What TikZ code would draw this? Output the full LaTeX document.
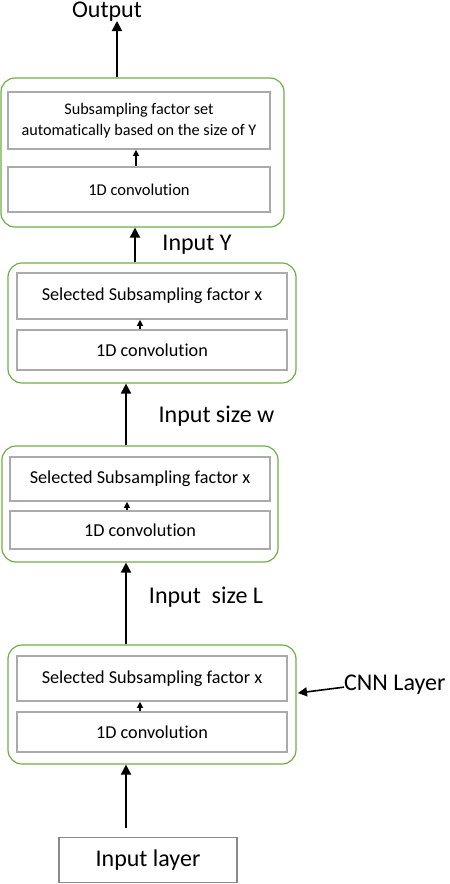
\documentclass[tikz,border=0pt]{standalone}
\usepackage{fontspec}
\setmainfont{Carlito}[Ligatures=NoCommon]
\usetikzlibrary{arrows.meta}
\definecolor{layergreen}{RGB}{112,173,71}
\definecolor{boxgray}{RGB}{170,170,170}

\tikzset{
  layer/.style={draw=layergreen, line width=1.2pt, rounded corners=14pt, inner sep=0pt},
  opbox/.style={draw=boxgray, line width=1.6pt, inner sep=0pt, align=center, font=\fontsize{18.2}{21}\selectfont},
  bigarrow/.style={black, line width=2pt, -{Triangle[length=10pt,width=10pt]}},
  smallarrow/.style={black, line width=1.2pt, -{Triangle[length=6pt,width=6pt]}},
  lbl/.style={inner sep=0pt, anchor=base, font=\fontsize{24}{28}\selectfont}
}

\begin{document}
\begin{tikzpicture}[x=1pt, y=-1pt]
\useasboundingbox (0,0) rectangle (450,884);

% top layer
\node[layer, minimum width=283pt, minimum height=149pt] (g4) at (142.5,152.5) {};
\node[opbox, minimum width=262pt, minimum height=57pt, font=\fontsize{16.2}{20.5}\selectfont] (up4) at (139,120.5) {Subsampling factor set\\automatically based on the size of Y};
\node[opbox, minimum width=262pt, minimum height=45pt, font=\fontsize{16.5}{19}\selectfont] (low4) at (139,189.5) {1D convolution};

% third layer
\node[layer, minimum width=288pt, minimum height=120pt] (g3) at (152,323) {};
\node[opbox, minimum width=270pt, minimum height=46pt] (up3) at (152,296) {Selected Subsampling factor x};
\node[opbox, minimum width=270pt, minimum height=40pt] (low3) at (152,350) {1D convolution};

% second layer
\node[layer, minimum width=276pt, minimum height=116pt] (g2) at (140,504) {};
\node[opbox, minimum width=260pt, minimum height=44pt] (up2) at (140,479) {Selected Subsampling factor x};
\node[opbox, minimum width=260pt, minimum height=38pt] (low2) at (140,530) {1D convolution};

% first layer
\node[layer, minimum width=288pt, minimum height=119pt] (g1) at (152,704.5) {};
\node[opbox, minimum width=270pt, minimum height=45pt] (up1) at (152,678.5) {Selected Subsampling factor x};
\node[opbox, minimum width=270pt, minimum height=40pt] (low1) at (152,732) {1D convolution};

% input
\node[draw=boxgray!80!black, line width=1.2pt, minimum width=178pt, minimum height=45pt, inner sep=0pt, font=\fontsize{24}{28}\selectfont] (inl) at (148,860) {Input layer};

% labels
\node[lbl] (out) at (107,17.5) {Output};
\node[lbl] (iny) at (197,250) {Input Y};
\node[lbl] (inw) at (216.5,422) {Input size w};
\node[lbl] (inL) at (206,603) {Input\ \ size L};
\node[lbl, anchor=base west] (cnn) at (344,690) {CNN Layer};

\coordinate (outtip) at (117,21);
\coordinate (cnntip) at (298,693);
\coordinate (intail) at (126,828);

% arrows
\draw[smallarrow] ([xshift=-3pt]low4.north) -- ([xshift=-3pt]up4.south);
\draw[smallarrow] ([xshift=-12pt]low3.north) -- ([xshift=-12pt]up3.south);
\draw[smallarrow] ([xshift=-13pt]low2.north) -- ([xshift=-13pt]up2.south);
\draw[smallarrow] ([xshift=-12pt]low1.north) -- ([xshift=-12pt]up1.south);

\draw[bigarrow] (g4.north -| outtip) -- (outtip);
\draw[bigarrow] ([xshift=-17pt]g3.north) -- ([xshift=-17pt]g3.north |- g4.south);
\draw[bigarrow] (g2.north -| intail) -- (g3.south -| intail);
\draw[bigarrow] (g1.north -| intail) -- (g2.south -| intail);
\draw[bigarrow] (intail) -- (g1.south -| intail);
\draw[black, line width=1.6pt, -{Triangle[length=9pt,width=9pt]}] ([yshift=-3pt]cnn.west) -- (cnntip);
\end{tikzpicture}
\end{document}
